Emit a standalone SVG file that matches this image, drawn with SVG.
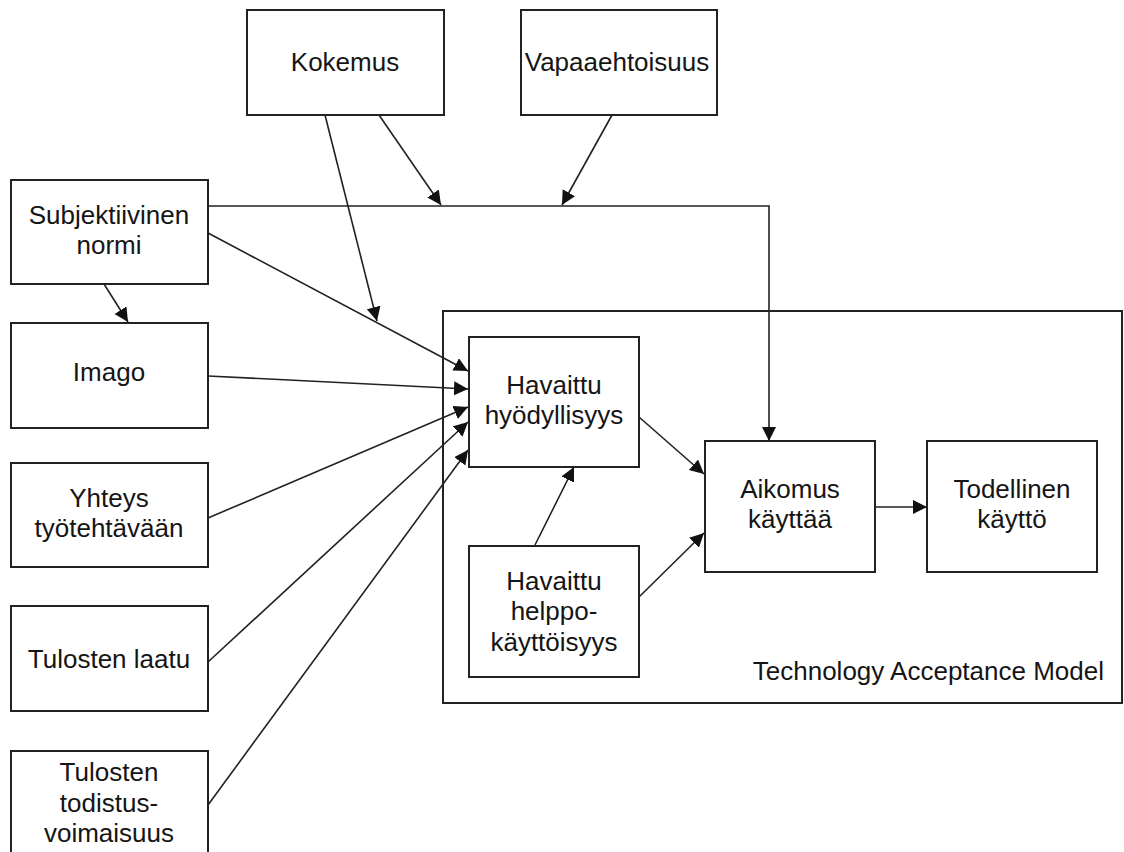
<svg xmlns="http://www.w3.org/2000/svg" width="1124" height="852" viewBox="0 0 1124 852">
<style>
.box{fill:#fff;stroke:#222;stroke-width:2}
.t{font-family:"Liberation Sans",Arial,sans-serif;font-size:26px;fill:#151515;text-anchor:middle}
.c{fill:none;stroke:#222;stroke-width:1.6}
.a{marker-end:url(#ah)}
</style>
<defs>
<marker id="ah" markerUnits="userSpaceOnUse" markerWidth="15" markerHeight="15" refX="14" refY="7" orient="auto">
<path d="M0,0 L14,7 L0,14 z" fill="#111"/>
</marker>
</defs>
<rect width="1124" height="852" fill="#fff"/>
<g id="tam">
<rect class="box" x="443" y="311" width="679" height="392"/>
<text class="t" x="1104" y="680" style="text-anchor:end">Technology Acceptance Model</text>
</g>
<g id="kokemus"><rect class="box" x="247" y="10" width="197" height="105"/><text class="t" x="345" y="71">Kokemus</text></g>
<g id="vapaaehtoisuus"><rect class="box" x="521" y="10" width="196" height="105"/><text class="t" x="617" y="71">Vapaaehtoisuus</text></g>
<g id="subjektiivinen"><rect class="box" x="11" y="180" width="197" height="104"/><text class="t" x="109" y="224">Subjektiivinen</text><text class="t" x="109" y="254">normi</text></g>
<g id="imago"><rect class="box" x="11" y="323" width="197" height="105"/><text class="t" x="109" y="381">Imago</text></g>
<g id="yhteys"><rect class="box" x="11" y="463" width="197" height="104"/><text class="t" x="109" y="507">Yhteys</text><text class="t" x="109" y="537">työtehtävään</text></g>
<g id="laatu"><rect class="box" x="11" y="606" width="197" height="105"/><text class="t" x="109" y="668">Tulosten laatu</text></g>
<g id="todistus"><rect class="box" x="11" y="751" width="197" height="120"/><text class="t" x="109" y="781">Tulosten</text><text class="t" x="109" y="812">todistus-</text><text class="t" x="109" y="842">voimaisuus</text></g>
<g id="hyodyllisyys"><rect class="box" x="469" y="337" width="170" height="130"/><text class="t" x="554" y="394">Havaittu</text><text class="t" x="554" y="424">hyödyllisyys</text></g>
<g id="helppokayttoisyys"><rect class="box" x="469" y="546" width="170" height="131"/><text class="t" x="554" y="590">Havaittu</text><text class="t" x="554" y="620">helppo-</text><text class="t" x="554" y="651">käyttöisyys</text></g>
<g id="aikomus"><rect class="box" x="705" y="441" width="170" height="131"/><text class="t" x="790" y="498">Aikomus</text><text class="t" x="790" y="528">käyttää</text></g>
<g id="todellinen"><rect class="box" x="927" y="441" width="170" height="131"/><text class="t" x="1012" y="498">Todellinen</text><text class="t" x="1012" y="528">käyttö</text></g>
<g id="connectors">
<path class="c a" d="M208,206 H769 V441"/>
<path class="c a" d="M379,115 L441,205"/>
<path class="c a" d="M612,115 L562,205"/>
<path class="c a" d="M325,115 L377,321"/>
<path class="c a" d="M104,284 L128,322"/>
<path class="c a" d="M208,233 L468,371"/>
<path class="c a" d="M208,376 L468,389"/>
<path class="c a" d="M208,518 L468,407"/>
<path class="c a" d="M208,662 L468,422"/>
<path class="c a" d="M208,805 L468,450"/>
<path class="c a" d="M639,417 L704,474"/>
<path class="c a" d="M535,545 L574,467"/>
<path class="c a" d="M639,597 L704,533"/>
<path class="c a" d="M875,507 L927,507"/>
</g>
</svg>
